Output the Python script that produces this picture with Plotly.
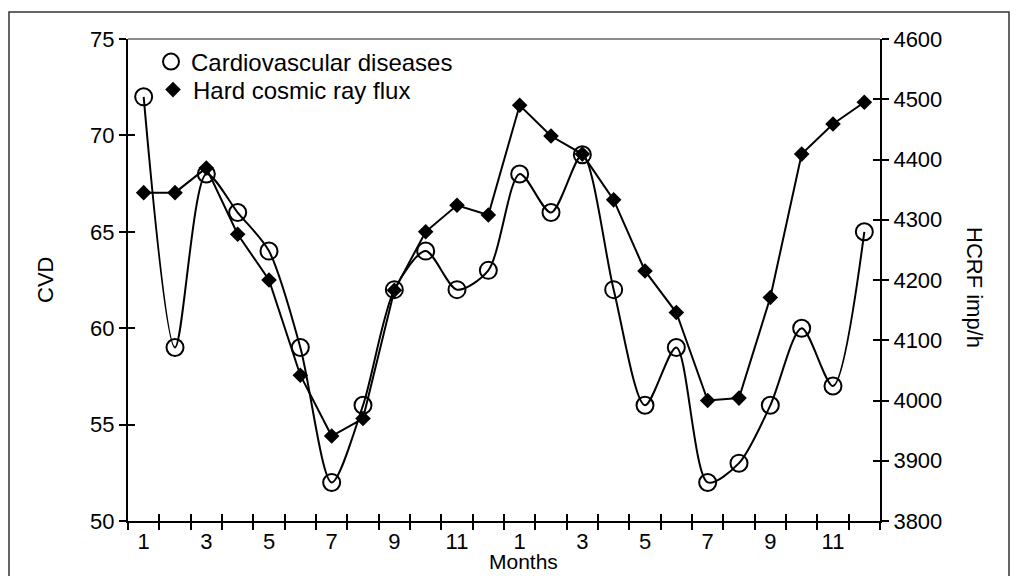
import plotly.graph_objects as go

months = ["1", "2", "3", "4", "5", "6", "7", "8", "9", "10", "11", "12",
          "1", "2", "3", "4", "5", "6", "7", "8", "9", "10", "11", "12"]
cvd = [72, 59, 68, 66, 64, 59, 52, 56, 62, 64, 62, 63,
       68, 66, 69, 62, 56, 59, 52, 53, 56, 60, 57, 65]
hcrf = [4345, 4345, 4386, 4276, 4200, 4042, 3941, 3970, 4183, 4280, 4324, 4308,
        4490, 4439, 4409, 4333, 4215, 4146, 4000, 4004, 4171, 4409, 4459, 4495]
cvd_ticks = [50, 55, 60, 65, 70, 75]
hcrf_ticks = [3800, 3900, 4000, 4100, 4200, 4300, 4400, 4500, 4600]

idx = list(range(len(months)))
label_idx = idx[::2]
label_txt = [months[i] for i in label_idx]
boundaries = [i - 0.5 for i in range(len(months) + 1)]

FONT = "Liberation Sans, Arial, sans-serif"

# page is rendered with an 8px body margin
OFF = 8
W, H = 1018 - 2 * OFF, 584 - 2 * OFF
PL, PR, PT, PB = 128, 880, 39, 521          # plot area in page pixels
L, T = PL - OFF, PT - OFF
R, B = W - (PR - OFF), H - (PB - OFF)
pw, ph = PR - PL, PB - PT


def px(x):
    return (x - PL) / pw


def py(y):
    return 1 - (y - PT) / ph


fig = go.Figure()

fig.add_trace(go.Scatter(x=idx, y=cvd, mode="lines",
                         line=dict(color="black", width=2, shape="spline", smoothing=0.8),
                         showlegend=False, hoverinfo="skip", yaxis="y"))
fig.add_trace(go.Scatter(x=idx, y=hcrf, mode="lines", line=dict(color="black", width=2),
                         showlegend=False, hoverinfo="skip", yaxis="y2"))
fig.add_trace(go.Scatter(x=idx, y=cvd, mode="markers", name="Cardiovascular diseases",
                         marker=dict(symbol="circle-open", size=17, color="black", line=dict(width=2)),
                         yaxis="y", legend="legend"))
fig.add_trace(go.Scatter(x=idx, y=hcrf, mode="markers", name="Hard cosmic ray flux",
                         marker=dict(symbol="diamond", size=12, color="black"),
                         yaxis="y2", legend="legend2"))

tickfont = dict(family=FONT, size=22, color="black")
tk = dict(ticklen=7, tickwidth=1.5, tickcolor="black")
legfont = dict(family=FONT, size=24, color="black")

fig.update_layout(
    width=W, height=H,
    margin=dict(l=L, r=R, t=T, b=B, autoexpand=False),
    paper_bgcolor="white", plot_bgcolor="white",
    font=dict(family=FONT, size=22, color="black"),
    xaxis=dict(range=[-0.5, len(months) - 0.5], tickmode="array", tickvals=label_idx, ticktext=label_txt,
               ticks="", showgrid=False, zeroline=False, showline=True, linecolor="black", linewidth=2,
               tickfont=tickfont, automargin=False,
               minor=dict(tickmode="array", tickvals=boundaries, ticks="outside", showgrid=False, **tk)),
    xaxis2=dict(range=[-0.5, len(months) - 0.5], overlaying="x", anchor="y", tickmode="array",
                tickvals=boundaries, ticks="inside", showticklabels=False, showgrid=False,
                zeroline=False, showline=False, automargin=False, **tk),
    yaxis=dict(range=[50, 75], tickmode="array", tickvals=cvd_ticks, ticks="outside", showgrid=False,
               zeroline=False, showline=True, linecolor="black", linewidth=2, tickfont=tickfont,
               automargin=False, **tk),
    yaxis2=dict(range=[3800, 4600], tickmode="array", tickvals=hcrf_ticks, overlaying="y", side="right",
                anchor="x", ticks="outside", showgrid=False, zeroline=False, showline=True,
                linecolor="black", linewidth=2, tickfont=tickfont, automargin=False, **tk),
    yaxis3=dict(range=[50, 75], overlaying="y", side="left", anchor="x", tickmode="array",
                tickvals=cvd_ticks, ticks="inside", showticklabels=False, showgrid=False,
                zeroline=False, showline=False, automargin=False, **tk),
    yaxis4=dict(range=[3800, 4600], overlaying="y", side="right", anchor="x", tickmode="array",
                tickvals=hcrf_ticks, ticks="inside", showticklabels=False, showgrid=False,
                zeroline=False, showline=False, automargin=False, **tk),
    legend=dict(x=px(151), y=py(62), xanchor="left", yanchor="middle",
                bgcolor="rgba(0,0,0,0)", font=legfont, itemwidth=30),
    legend2=dict(x=px(153), y=py(90), xanchor="left", yanchor="middle",
                 bgcolor="rgba(0,0,0,0)", font=legfont, itemwidth=30),
    showlegend=True,
)

fig.add_trace(go.Scatter(x=[None], y=[None], xaxis="x2", yaxis="y3", showlegend=False, hoverinfo="skip"))
fig.add_trace(go.Scatter(x=[None], y=[None], xaxis="x", yaxis="y4", showlegend=False, hoverinfo="skip"))

fig.add_shape(type="line", xref="paper", yref="paper", x0=0, x1=1, y0=1, y1=1,
              line=dict(color="#666666", width=1.5))
fig.add_shape(type="rect", xref="paper", yref="paper",
              x0=px(9), x1=px(1009), y0=py(610), y1=py(12),
              line=dict(color="#333333", width=1.5))

fig.add_annotation(text="CVD", xref="paper", yref="paper", x=px(45), y=py(280),
                   xanchor="center", yanchor="middle",
                   showarrow=False, textangle=-90, font=dict(family=FONT, size=22, color="black"))
fig.add_annotation(text="HCRF imp/h", xref="paper", yref="paper", x=px(975), y=py(287),
                   xanchor="center", yanchor="middle",
                   showarrow=False, textangle=90, font=dict(family=FONT, size=22, color="black"))
fig.add_annotation(text="Months", xref="paper", yref="paper", x=px(523), y=py(561),
                   xanchor="center", yanchor="middle",
                   showarrow=False, font=dict(family=FONT, size=21, color="black"))

fig.write_html("out.html")
